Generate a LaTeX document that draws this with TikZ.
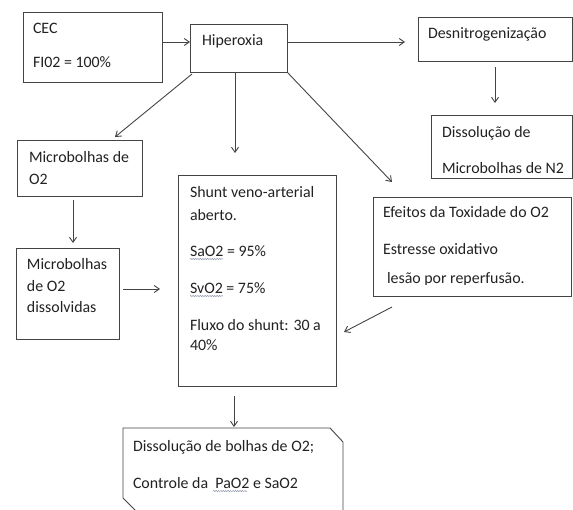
\documentclass[tikz,border=0pt]{standalone}
\usepackage{fontspec}
\setmainfont{Carlito}
\usetikzlibrary{arrows.meta,decorations.pathmorphing}
\definecolor{linec}{HTML}{444444}
\definecolor{textc}{HTML}{222222}
\definecolor{squigc}{HTML}{8C96A8}
\begin{document}
\begin{tikzpicture}[x=1pt,y=-1pt,
  box/.style={draw=linec,line width=0.9pt,inner sep=0pt,outer sep=0pt,fill=none},
  ghost/.style={inner sep=0pt,outer sep=0pt},
  txt/.style={inner sep=0pt,outer sep=0pt,anchor=base west,text=textc,font=\fontsize{15.9}{19}\selectfont},
  conn/.style={draw=linec,line width=0.9pt,-{Straight Barb[length=5pt,width=7pt]}},
  squig/.style={draw=squigc,line width=0.5pt,decorate,decoration={snake,amplitude=0.6pt,segment length=2.4pt}}]
\useasboundingbox[fill=white] (0,0) rectangle (573,509);

% boxes
\node[box,minimum width=139pt,minimum height=70pt] (cec) at (92.5,47) {};
\node[box,minimum width=97pt,minimum height=48pt] (hip) at (238.5,48) {};
\node[box,minimum width=154pt,minimum height=44pt] (desn) at (495,39) {};
\node[box,minimum width=141pt,minimum height=63pt] (n2) at (501.5,146.5) {};
\node[box,minimum width=198pt,minimum height=99pt] (eff) at (472,246.5) {};
\node[box,minimum width=125pt,minimum height=56pt] (mo2) at (79.5,168) {};
\node[box,minimum width=103pt,minimum height=91pt] (md) at (67.5,293.5) {};
\node[box,minimum width=158pt,minimum height=211pt] (shunt) at (257,280.5) {};
\node[ghost,minimum width=220pt,minimum height=83pt] (bot) at (233,469.5) {};
\draw[draw=linec,line width=0.9pt]
  ([xshift=13pt]bot.south west) -- ([yshift=13pt]bot.south west) -- (bot.north west)
  -- ([xshift=-13pt]bot.north east) -- ([yshift=-14pt]bot.north east) -- (bot.south east) -- cycle;

% texts
\node[txt] (tcec) at (33,33) {CEC};
\node[txt] (tfio) at (33,67) {FI02 = 100\%};
\node[txt] (thip) at (202,45) {Hiperoxia};
\node[txt] (tdesn) at (428,38) {Desnitrogenização};
\node[txt] (tn2a) at (442,137) {Dissolução de};
\node[txt] (tn2b) at (442,173) {Microbolhas de N2};
\node[txt] (tmoa) at (29,162) {Microbolhas de};
\node[txt] (tmob) at (29,184) {O2};
\node[txt] (tmda) at (27,269) {Microbolhas};
\node[txt] (tmdb) at (27,291) {de O2};
\node[txt] (tmdc) at (27,312) {dissolvidas};
\node[txt] (tsha) at (190,197) {Shunt veno-arterial};
\node[txt] (tshb) at (190,220) {aberto.};
\node[txt] (tshc) at (190,256) {SaO2 = 95\%};
\node[txt] (tshd) at (190,293) {SvO2 = 75\%};
\node[txt] (tshe) at (190,330) {Fluxo do shunt: 30 a};
\node[txt] (tshf) at (190,350) {40\%};
\node[txt] (teffa) at (383,217) {Efeitos da Toxidade do O2};
\node[txt] (teffb) at (383,254) {Estresse oxidativo};
\begin{scope}
  \clip (374,265) rectangle (570,284);
  \node[txt] (teffc) at (387,283) {lesão por reperfusão.};
\end{scope}
\node[txt] (tbota) at (133,451) {Dissolução de bolhas de O2;};
\node[txt] (tbotb) at (133,488) {Controle da\ \ PaO2 e SaO2};

% spell-check squiggles
\draw[squig] ([yshift=-3pt]tshc.base west) -- ++(33,0);
\draw[squig] ([yshift=-3pt]tshd.base west) -- ++(33,0);
\draw[squig] ([xshift=80pt,yshift=-3pt]tbotb.base west) -- ++(34,0);

% connectors
\draw[conn] ([yshift=5pt]cec.east) -- ([yshift=6pt]hip.west);
\draw[conn] ([yshift=6pt]hip.east) -- ([xshift=-13pt,yshift=-3pt]desn.west);
\draw[conn] ([yshift=-6pt]desn.south) -- ([yshift=12pt]desn.south |- n2.north);
\draw[conn] ([xshift=2pt,yshift=-2pt]hip.south west) -- ([xshift=35.5pt,yshift=3pt]mo2.north);
\draw[conn] ([xshift=-3.5pt]hip.south) -- ([xshift=-22pt,yshift=22pt]shunt.north);
\draw[conn] (hip.south east) -- ([xshift=-80pt,yshift=15pt]eff.north);
\draw[conn] ([xshift=-6.5pt,yshift=-4pt]mo2.south) -- ([xshift=5.5pt,yshift=5pt]md.north);
\draw[conn] ([xshift=4pt,yshift=4.5pt]md.east) -- ([xshift=-18pt,yshift=-8.5pt]shunt.west);
\draw[conn] ([xshift=-80pt,yshift=-11pt]eff.south) -- ([xshift=8pt,yshift=-51.5pt]shunt.east);
\draw[conn] ([xshift=-23pt,yshift=-10pt]shunt.south) -- ([xshift=1pt,yshift=1pt]bot.north);
\end{tikzpicture}
\end{document}
